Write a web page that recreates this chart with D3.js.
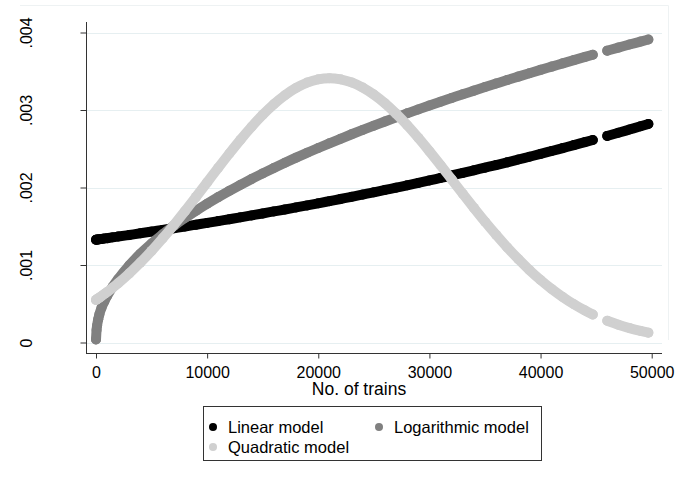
<!DOCTYPE html>
<html>
<head>
<meta charset="utf-8">
<script src="https://cdn.jsdelivr.net/npm/d3@7"></script>
<style>
  body { margin: 0; background: #fff; }
  svg { display: block; }
  text { font-family: "Liberation Sans", Arial, Helvetica, sans-serif; fill: #000; }
</style>
</head>
<body>
<svg id="chart" width="680" height="482"></svg>
<script>
// Number of trains for each observation
const trains = [
  0, 50, 100, 200, 300, 500, 750, 1000, 1500, 2000,
  3000, 4000, 5000, 6000, 7000, 8000, 9000, 10000, 11000, 12000,
  13000, 14000, 15000, 16000, 17000, 18000, 19000, 20000, 21000, 22000,
  23000, 24000, 25000, 26000, 27000, 28000, 29000, 30000, 31000, 32000,
  33000, 34000, 35000, 36000, 37000, 38000, 39000, 40000, 41000, 42000,
  43000, 44000, 44700, 46000, 47000, 48000, 49000, 49700
];

// Predicted values from each model
const linearFit = [
  0.001326, 0.001327, 0.001328, 0.00133, 0.001332, 0.001336, 0.001341, 0.001346, 0.001357, 0.001367,
  0.001388, 0.001409, 0.001431, 0.001453, 0.001475, 0.001497, 0.00152, 0.001543, 0.001567, 0.001591,
  0.001615, 0.00164, 0.001665, 0.001691, 0.001716, 0.001743, 0.001769, 0.001796, 0.001824, 0.001852,
  0.00188, 0.001909, 0.001938, 0.001968, 0.001998, 0.002028, 0.002059, 0.002091, 0.002123, 0.002155,
  0.002188, 0.002222, 0.002256, 0.00229, 0.002325, 0.002361, 0.002397, 0.002433, 0.002471, 0.002509,
  0.002547, 0.002586, 0.002613, 0.002666, 0.002706, 0.002748, 0.00279, 0.00282
];
const logFit = [
  0.00004, 0.00016, 0.00022, 0.0003, 0.00036, 0.00045, 0.00053, 0.0006, 0.00072, 0.00082,
  0.000996, 0.001146, 0.001278, 0.001396, 0.001505, 0.001607, 0.001701, 0.001791, 0.001876, 0.001957,
  0.002035, 0.00211, 0.002182, 0.002251, 0.002319, 0.002385, 0.002448, 0.00251, 0.00257, 0.002629,
  0.002687, 0.002743, 0.002798, 0.002852, 0.002905, 0.002957, 0.003008, 0.003058, 0.003107, 0.003155,
  0.003203, 0.00325, 0.003297, 0.003342, 0.003387, 0.003431, 0.003475, 0.003518, 0.00356, 0.003602,
  0.003644, 0.003685, 0.003713, 0.003766, 0.003805, 0.003845, 0.003883, 0.00391
];
const quadFit = [
  0.00055, 0.000554, 0.000559, 0.000569, 0.000579, 0.000599, 0.000625, 0.000651, 0.000707, 0.000765,
  0.000892, 0.001031, 0.001182, 0.001344, 0.001515, 0.001694, 0.001879, 0.002066, 0.002254, 0.002439,
  0.002617, 0.002784, 0.002938, 0.003075, 0.003191, 0.003285, 0.003354, 0.003396, 0.00341, 0.003396,
  0.003356, 0.00329, 0.003199, 0.003086, 0.002953, 0.002804, 0.002641, 0.002468, 0.002288, 0.002104,
  0.001919, 0.001737, 0.001559, 0.001389, 0.001227, 0.001076, 0.000935, 0.000807, 0.000691, 0.000587,
  0.000494, 0.000413, 0.000362, 0.000281, 0.00023, 0.000186, 0.000149, 0.000127
];

const seriesNames = ["Linear model", "Logarithmic model", "Quadratic model"];
const seriesColors = ["#000000", "#808080", "#d0d0d0"];

const xTicks = [0, 10000, 20000, 30000, 40000, 50000];
const yTicks = [0, 0.001, 0.002, 0.003, 0.004];
const yTickLabels = ["0", ".001", ".002", ".003", ".004"];
const xTitle = "No. of trains";

const svg = d3.select("#chart");
const frame = { left: 86, right: 662, top: 22, bottom: 353 };
const axisColor = "#333333";

const x = d3.scaleLinear().domain([0, 50000]).range([96, 651.7]);
const y = d3.scaleLinear().domain([0, 0.004]).range([342.5, 32.5]);

// faint outer border of the graph region
svg.append("path")
  .attr("d", "M20,5.5H668.5V340")
  .attr("fill", "none")
  .attr("stroke", "#eef2f3");

// horizontal gridlines
svg.append("g")
  .selectAll("line")
  .data(yTicks)
  .join("line")
  .attr("x1", frame.left)
  .attr("x2", frame.right)
  .attr("y1", d => Math.round(y(d)) + 0.5)
  .attr("y2", d => Math.round(y(d)) + 0.5)
  .attr("stroke", "#e6eff1")
  .attr("stroke-width", 1.2);

// series: consecutive observations drawn as overlapping markers
const series = [linearFit, logFit, quadFit].map((vals, i) => ({
  name: seriesNames[i],
  color: seriesColors[i],
  points: trains.map((t, j) => ({ t, v: vals[j] }))
}));

function runs(points) {
  const out = [];
  let cur = [];
  points.forEach((p, i) => {
    if (i > 0 && p.t - points[i - 1].t > 1000) { out.push(cur); cur = []; }
    cur.push(p);
  });
  out.push(cur);
  return out;
}

const line = d3.line()
  .x(d => x(d.t))
  .y(d => y(d.v))
  .curve(d3.curveMonotoneX);

series.forEach(s => {
  const g = svg.append("g").attr("class", "series");
  g.selectAll("path")
    .data(runs(s.points))
    .join("path")
    .attr("d", line)
    .attr("fill", "none")
    .attr("stroke", s.color)
    .attr("stroke-width", 10)
    .attr("stroke-linecap", "round")
    .attr("stroke-linejoin", "round");
  g.selectAll("circle")
    .data(s.points)
    .join("circle")
    .attr("cx", d => x(d.t))
    .attr("cy", d => y(d.v))
    .attr("r", 5)
    .attr("fill", s.color);
});

// axis lines
svg.append("line")
  .attr("x1", frame.left + 0.5).attr("x2", frame.left + 0.5)
  .attr("y1", frame.top).attr("y2", frame.bottom + 0.5)
  .attr("stroke", axisColor);
svg.append("line")
  .attr("x1", frame.left).attr("x2", frame.right)
  .attr("y1", frame.bottom + 0.5).attr("y2", frame.bottom + 0.5)
  .attr("stroke", axisColor);

// y axis ticks and rotated labels
const yAxis = svg.append("g")
  .attr("transform", `translate(${frame.left + 0.5},0)`)
  .call(d3.axisLeft(y).tickValues(yTicks).tickSize(6)
    .tickFormat((d, i) => yTickLabels[i]));
yAxis.select(".domain").remove();
yAxis.selectAll(".tick line").attr("stroke", axisColor);
yAxis.selectAll(".tick text")
  .attr("x", null)
  .attr("dy", null)
  .attr("text-anchor", "middle")
  .attr("transform", "translate(-54.5,0) rotate(-90)")
  .style("font-size", "16px")
  .style("font-family", "\"Liberation Sans\", Arial, sans-serif")
  .attr("fill", "#000");

// x axis ticks and labels
const xAxis = svg.append("g")
  .attr("transform", `translate(0,${frame.bottom + 0.5})`)
  .call(d3.axisBottom(x).tickValues(xTicks).tickSize(5).tickFormat(d3.format("d")));
xAxis.select(".domain").remove();
xAxis.selectAll(".tick line").attr("stroke", axisColor);
xAxis.selectAll(".tick text")
  .attr("y", 24)
  .attr("dy", null)
  .style("font-size", "16px")
  .style("font-family", "\"Liberation Sans\", Arial, sans-serif")
  .attr("fill", "#000");

// x axis title
svg.append("text")
  .attr("x", 359)
  .attr("y", 395)
  .attr("text-anchor", "middle")
  .style("font-size", "17.5px")
  .text(xTitle);

// legend
const legend = svg.append("g");
legend.append("rect")
  .attr("x", 203.5).attr("y", 406.5)
  .attr("width", 338).attr("height", 54)
  .attr("fill", "#fff")
  .attr("stroke", axisColor);
const legendPos = [[213, 427], [379, 427], [213, 447]];
series.forEach((s, i) => {
  const [cx, cy] = legendPos[i];
  legend.append("circle").attr("cx", cx).attr("cy", cy).attr("r", 4).attr("fill", s.color);
  legend.append("text")
    .attr("x", cx + 15)
    .attr("y", cy + 6)
    .style("font-size", "16.5px")
    .text(s.name);
});
</script>
</body>
</html>
